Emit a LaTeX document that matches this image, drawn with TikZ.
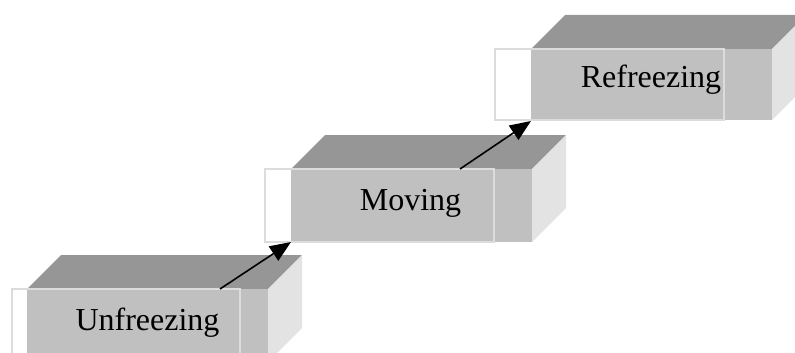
\documentclass[tikz,border=0pt]{standalone}
\usepackage{fontspec}
\setmainfont{Liberation Serif}
\usetikzlibrary{arrows.meta}
\definecolor{topgray}{HTML}{969696}
\definecolor{frontgray}{HTML}{C0C0C0}
\definecolor{sidegray}{HTML}{E3E3E3}
\definecolor{edgegray}{HTML}{DCDCDC}
\tikzset{
  topface/.style={fill=topgray, draw=none},
  frontface/.style={fill=frontgray, draw=none},
  sideface/.style={fill=sidegray, draw=none},
  labelbox/.style={draw=edgegray, line width=1.6pt},
  steplabel/.style={font=\fontsize{32}{38}\selectfont, anchor=base, inner sep=0pt},
  flow/.style={line width=1.6pt, -{Triangle[length=21pt,width=17pt]}}
}
% #1 front left x, #2 top y, #3 front right x, #4 bottom y, #5 label box left x, #6 label box right x
\newcommand\stepcube[6]{%
  \fill[topface] (#1,#2) -- (#3,#2) -- ++(34,-34) -- (#1+34,#2-34) -- cycle;
  \fill[sideface] (#3,#2) -- ++(34,-34) -- (#3+34,#4-34) -- (#3,#4) -- cycle;
  \fill[frontface] (#1,#2) rectangle (#3,#4);
  \draw[labelbox] (#5,#2) rectangle (#6,#4);
}
\begin{document}
\begin{tikzpicture}[x=1pt,y=-1pt]
\useasboundingbox (0,0) rectangle (795,353);
\clip (0,0) rectangle (795,353);
\fill[white] (0,0) rectangle (795,353);
\stepcube{27}{289}{268}{362}{12}{240}
\stepcube{291}{169}{532}{242}{265}{494}
\stepcube{531}{49}{772}{120}{495}{724}
\node[steplabel] (unfreezing) at (147.5,330) {Unfreezing};
\node[steplabel] (moving) at (410.5,210) {Moving};
\node[steplabel] (refreezing) at (651,88) {Refreezing};
\coordinate (a1start) at (220,289);
\coordinate (a1end) at (291,242);
\coordinate (a2start) at (460,169);
\coordinate (a2end) at (531,121);
\draw[flow] (a1start) -- (a1end);
\draw[flow] (a2start) -- (a2end);
\end{tikzpicture}
\end{document}
